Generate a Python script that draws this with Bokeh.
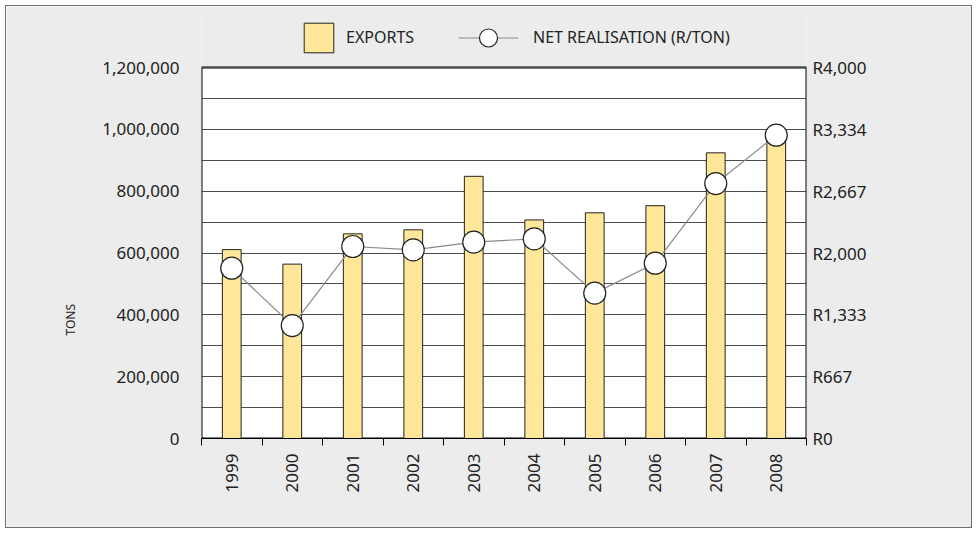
from math import pi
from bokeh.plotting import figure
from bokeh.models import (Range1d, LinearAxis, FixedTicker, NumeralTickFormatter,
                          Legend, LegendItem, Title, BoxAnnotation, ColumnDataSource)
from bokeh.embed import file_html
from bokeh.resources import INLINE

# ---- data ----
years = ["1999", "2000", "2001", "2002", "2003", "2004", "2005", "2006", "2007", "2008"]
exports_tons = [611000, 564000, 662000, 675000, 848000, 707000, 730000, 753000, 924000, 975000]
net_realisation = [1836, 1218, 2070, 2034, 2117, 2153, 1567, 1890, 2749, 3270]
left_ticks = [0, 200000, 400000, 600000, 800000, 1000000, 1200000]
right_ticks = [0, 667, 1333, 2000, 2667, 3334, 4000]

FONT = "Noto Sans"
TXT = "#222222"

idx = list(range(len(years)))
src = ColumnDataSource(dict(x=idx, year=years, exports=exports_tons, net=net_realisation))

# frame reaches up into the legend band; the white plot area is 371 of its 424 px
EXT = 424 / 371
p = figure(width=965, height=521, output_backend="svg", toolbar_location=None,
           x_range=Range1d(-0.5, len(years) - 0.5), y_range=Range1d(0, left_ticks[-1] * EXT),
           min_border_left=195, min_border_right=165, min_border_top=8, min_border_bottom=89,
           background_fill_color="#ECECEC", border_fill_color="#ECECEC",
           outline_line_color=None,
           margin=(6, 5, 5, 6),
           styles={"box-shadow": "0 0 0 1px #707070"})
p.extra_y_ranges = {"r": Range1d(0, right_ticks[-1] * EXT)}

# white plot area with black border
p.add_layout(BoxAnnotation(bottom=0, top=left_ticks[-1], fill_color="white", fill_alpha=1,
                           line_color="black", line_width=2, line_alpha=1, level="image"))

# grid every 100,000
p.xgrid.visible = False
p.ygrid.ticker = FixedTicker(ticks=[left_ticks[-1] * k / 12 for k in range(13)])
p.ygrid.grid_line_color = "#4a4a4a"
p.ygrid.grid_line_width = 1

# bottom axis
xa = p.xaxis[0]
xa.ticker = FixedTicker(ticks=idx, minor_ticks=[i - 0.5 for i in range(len(years) + 1)])
xa.major_label_overrides = {i: y for i, y in zip(idx, years)}
xa.major_label_orientation = pi / 2
xa.major_tick_out = 0
xa.major_tick_in = 0
xa.minor_tick_out = 7
xa.minor_tick_in = 0
xa.minor_tick_line_color = "black"
xa.axis_line_color = "black"
xa.major_label_standoff = 8
xa.major_label_text_font = FONT
xa.major_label_text_font_size = "17px"
xa.major_label_text_color = TXT

# left axis
ya = p.yaxis[0]
ya.ticker = FixedTicker(ticks=left_ticks)
ya.formatter = NumeralTickFormatter(format="0,0")
ya.major_tick_out = 0
ya.major_tick_in = 0
ya.minor_tick_out = 0
ya.minor_tick_in = 0
ya.axis_line_color = None
ya.major_label_standoff = 22
ya.major_label_text_font = FONT
ya.major_label_text_font_size = "17px"
ya.major_label_text_color = TXT

# right axis
ra = LinearAxis(y_range_name="r", ticker=FixedTicker(ticks=right_ticks),
                major_label_overrides={t: f"R{t:,}" for t in right_ticks})
ra.major_tick_out = 0
ra.major_tick_in = 0
ra.minor_tick_out = 0
ra.minor_tick_in = 0
ra.axis_line_color = None
ra.major_label_standoff = 6
ra.major_label_text_font = FONT
ra.major_label_text_font_size = "17px"
ra.major_label_text_color = TXT
p.add_layout(ra, "right")

# glyphs
bars = p.vbar(x="x", top="exports", width=0.31, source=src,
              fill_color="#FFE699", line_color="#222222", line_width=1)
ln = p.line(x="x", y="net", y_range_name="r", source=src,
            line_color="#8a8a8a", line_width=1.2)
dots = p.scatter(x="x", y="net", y_range_name="r", source=src, marker="circle",
                 size=22, fill_color="white", line_color="#222222", line_width=1.2)

# legends (location = bottom-left corner, measured from the frame's bottom-left)
leg1 = Legend(items=[LegendItem(label="EXPORTS", renderers=[bars])],
              location=(99, 382.5), glyph_width=37, glyph_height=37,
              padding=0, margin=0, spacing=0, label_standoff=9,
              border_line_alpha=0, background_fill_alpha=0,
              label_text_font=FONT, label_text_font_size="16px", label_text_color=TXT)
leg2 = Legend(items=[LegendItem(label="NET REALISATION (R/TON)", renderers=[ln, dots])],
              location=(257, 378.5), glyph_width=60, glyph_height=45,
              padding=0, margin=0, spacing=0, label_standoff=15,
              border_line_alpha=0, background_fill_alpha=0,
              label_text_font=FONT, label_text_font_size="16px", label_text_color=TXT)
p.add_layout(leg1, "center")
p.add_layout(leg2, "center")

# axis title
p.add_layout(Title(text="TONS", align="left", offset=103, standoff=41,
                   text_font=FONT, text_font_size="12px", text_font_style="normal",
                   text_color=TXT), "left")

open("out.html", "w").write(file_html(p, INLINE))
